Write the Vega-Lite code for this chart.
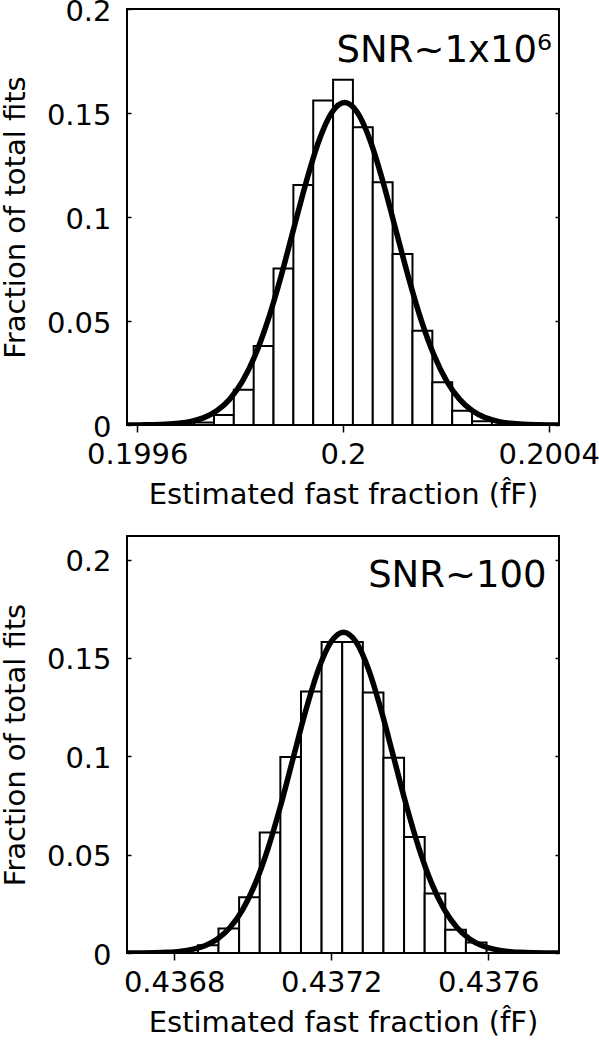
{
  "$schema": "https://vega.github.io/schema/vega-lite/v6.json",
  "background": "white",
  "padding": {"left": 0, "top": -4, "right": 0, "bottom": 0},
  "spacing": 25,
  "datasets": {
    "bars1": [
      {"lo": 0.1997105, "hi": 0.1997491, "frac": 0.0012},
      {"lo": 0.1997491, "hi": 0.1997877, "frac": 0.0048},
      {"lo": 0.1997877, "hi": 0.1998263, "frac": 0.0169},
      {"lo": 0.1998263, "hi": 0.1998649, "frac": 0.038},
      {"lo": 0.1998649, "hi": 0.1999035, "frac": 0.0753},
      {"lo": 0.1999035, "hi": 0.1999421, "frac": 0.1154},
      {"lo": 0.1999421, "hi": 0.1999807, "frac": 0.156},
      {"lo": 0.1999807, "hi": 0.2000193, "frac": 0.166},
      {"lo": 0.2000193, "hi": 0.2000579, "frac": 0.1431},
      {"lo": 0.2000579, "hi": 0.2000965, "frac": 0.1167},
      {"lo": 0.2000965, "hi": 0.2001351, "frac": 0.0822},
      {"lo": 0.2001351, "hi": 0.2001737, "frac": 0.0453},
      {"lo": 0.2001737, "hi": 0.2002123, "frac": 0.0205},
      {"lo": 0.2002123, "hi": 0.2002509, "frac": 0.0069},
      {"lo": 0.2002509, "hi": 0.2002895, "frac": 0.0018}
    ],
    "curve1": [
      {"x": 0.19958, "y": 0.00002},
      {"x": 0.1996055, "y": 0.00005},
      {"x": 0.1996304, "y": 0.00014},
      {"x": 0.1996552, "y": 0.00034},
      {"x": 0.1996801, "y": 0.00079},
      {"x": 0.1997049, "y": 0.00172},
      {"x": 0.1997298, "y": 0.00353},
      {"x": 0.1997546, "y": 0.00681},
      {"x": 0.1997795, "y": 0.01233},
      {"x": 0.1998043, "y": 0.02098},
      {"x": 0.1998292, "y": 0.03352},
      {"x": 0.199854, "y": 0.05032},
      {"x": 0.1998789, "y": 0.07096},
      {"x": 0.1999037, "y": 0.09401},
      {"x": 0.1999286, "y": 0.117},
      {"x": 0.1999534, "y": 0.13679},
      {"x": 0.1999783, "y": 0.15023},
      {"x": 0.2000031, "y": 0.155},
      {"x": 0.200028, "y": 0.15023},
      {"x": 0.2000528, "y": 0.13679},
      {"x": 0.2000777, "y": 0.117},
      {"x": 0.2001025, "y": 0.09401},
      {"x": 0.2001274, "y": 0.07096},
      {"x": 0.2001522, "y": 0.05032},
      {"x": 0.2001771, "y": 0.03352},
      {"x": 0.2002019, "y": 0.02098},
      {"x": 0.2002268, "y": 0.01233},
      {"x": 0.2002516, "y": 0.00681},
      {"x": 0.2002765, "y": 0.00353},
      {"x": 0.2003013, "y": 0.00172},
      {"x": 0.2003262, "y": 0.00079},
      {"x": 0.200351, "y": 0.00034},
      {"x": 0.2003759, "y": 0.00014},
      {"x": 0.2004007, "y": 0.00005},
      {"x": 0.20042, "y": 0.00002}
    ],
    "bars2": [
      {"lo": 0.4368605, "hi": 0.436913, "frac": 0.004},
      {"lo": 0.436913, "hi": 0.4369655, "frac": 0.0124},
      {"lo": 0.4369655, "hi": 0.437018, "frac": 0.0283},
      {"lo": 0.437018, "hi": 0.4370705, "frac": 0.0612},
      {"lo": 0.4370705, "hi": 0.437123, "frac": 0.0997},
      {"lo": 0.437123, "hi": 0.4371755, "frac": 0.1329},
      {"lo": 0.4371755, "hi": 0.437228, "frac": 0.1581},
      {"lo": 0.437228, "hi": 0.4372805, "frac": 0.1581},
      {"lo": 0.4372805, "hi": 0.437333, "frac": 0.1324},
      {"lo": 0.437333, "hi": 0.4373855, "frac": 0.0993},
      {"lo": 0.4373855, "hi": 0.437438, "frac": 0.059},
      {"lo": 0.437438, "hi": 0.4374905, "frac": 0.0302},
      {"lo": 0.4374905, "hi": 0.437543, "frac": 0.0118},
      {"lo": 0.437543, "hi": 0.4375955, "frac": 0.0054}
    ],
    "curve2": [
      {"x": 0.43668, "y": 0.00002},
      {"x": 0.4367177, "y": 0.00005},
      {"x": 0.4367498, "y": 0.00014},
      {"x": 0.4367819, "y": 0.00036},
      {"x": 0.436814, "y": 0.00083},
      {"x": 0.4368461, "y": 0.00181},
      {"x": 0.4368782, "y": 0.00372},
      {"x": 0.4369103, "y": 0.00717},
      {"x": 0.4369424, "y": 0.01298},
      {"x": 0.4369745, "y": 0.02207},
      {"x": 0.4370066, "y": 0.03527},
      {"x": 0.4370387, "y": 0.05295},
      {"x": 0.4370708, "y": 0.07467},
      {"x": 0.4371029, "y": 0.09893},
      {"x": 0.437135, "y": 0.12311},
      {"x": 0.4371671, "y": 0.14394},
      {"x": 0.4371992, "y": 0.15808},
      {"x": 0.4372313, "y": 0.1631},
      {"x": 0.4372634, "y": 0.15808},
      {"x": 0.4372955, "y": 0.14394},
      {"x": 0.4373276, "y": 0.12311},
      {"x": 0.4373597, "y": 0.09893},
      {"x": 0.4373918, "y": 0.07467},
      {"x": 0.4374239, "y": 0.05295},
      {"x": 0.437456, "y": 0.03527},
      {"x": 0.4374881, "y": 0.02207},
      {"x": 0.4375202, "y": 0.01298},
      {"x": 0.4375523, "y": 0.00717},
      {"x": 0.4375844, "y": 0.00372},
      {"x": 0.4376165, "y": 0.00181},
      {"x": 0.4376486, "y": 0.00083},
      {"x": 0.4376807, "y": 0.00036},
      {"x": 0.4377128, "y": 0.00014},
      {"x": 0.4377449, "y": 0.00005},
      {"x": 0.43778, "y": 0.00002}
    ]
  },
  "vconcat": [
    {
      "width": 432,
      "height": 416,
      "layer": [
        {
          "data": {"name": "bars1"},
          "mark": {"type": "rect", "fill": "white", "stroke": "black", "strokeWidth": 2},
          "encoding": {
            "x": {"field": "lo", "type": "quantitative", "scale": {"domain": [0.19958, 0.20042], "nice": false, "zero": false},
                  "axis": {"title": "Estimated fast fraction (f\u0302F)", "values": [0.1996, 0.2, 0.2004], "format": "~g"}},
            "x2": {"field": "hi"},
            "y": {"field": "frac", "type": "quantitative", "scale": {"domain": [0, 0.2], "nice": false},
                  "axis": {"title": "Fraction of total fits", "values": [0, 0.05, 0.1, 0.15, 0.2], "format": "~g"}},
            "y2": {"datum": 0}
          }
        },
        {
          "data": {"name": "curve1"},
          "mark": {"type": "line", "stroke": "black", "strokeWidth": 5.5, "interpolate": "monotone", "clip": true},
          "encoding": {
            "x": {"field": "x", "type": "quantitative", "scale": {"domain": [0.19958, 0.20042], "nice": false, "zero": false},
                  "axis": {"title": "Estimated fast fraction (f\u0302F)", "values": [0.1996, 0.2, 0.2004], "format": "~g"}},
            "y": {"field": "y", "type": "quantitative", "scale": {"domain": [0, 0.2], "nice": false},
                  "axis": {"orient": "right", "title": null, "labels": false, "values": [0, 0.05, 0.1, 0.15, 0.2]}}
          }
        },
        {
          "data": {"values": [{"label": "SNR~1x10\u2076"}]},
          "mark": {"type": "text", "align": "right", "baseline": "alphabetic", "fontSize": 37, "font": "DejaVu Sans", "color": "black"},
          "encoding": {
            "x": {"datum": 0.200406, "type": "quantitative", "scale": {"domain": [0.19958, 0.20042], "nice": false, "zero": false}},
            "y": {"datum": 0.1744, "type": "quantitative", "scale": {"domain": [0, 0.2], "nice": false}, "axis": null},
            "text": {"field": "label", "type": "nominal"}
          }
        }
      ],
      "resolve": {"axis": {"y": "independent"}}
    },
    {
      "width": 432,
      "height": 417,
      "layer": [
        {
          "data": {"name": "bars2"},
          "mark": {"type": "rect", "fill": "white", "stroke": "black", "strokeWidth": 2},
          "encoding": {
            "x": {"field": "lo", "type": "quantitative", "scale": {"domain": [0.43668, 0.43778], "nice": false, "zero": false},
                  "axis": {"title": "Estimated fast fraction (f\u0302F)", "values": [0.4368, 0.4372, 0.4376], "format": "~g"}},
            "x2": {"field": "hi"},
            "y": {"field": "frac", "type": "quantitative", "scale": {"domain": [0, 0.212], "nice": false},
                  "axis": {"title": "Fraction of total fits", "values": [0, 0.05, 0.1, 0.15, 0.2], "format": "~g"}},
            "y2": {"datum": 0}
          }
        },
        {
          "data": {"name": "curve2"},
          "mark": {"type": "line", "stroke": "black", "strokeWidth": 5.5, "interpolate": "monotone", "clip": true},
          "encoding": {
            "x": {"field": "x", "type": "quantitative", "scale": {"domain": [0.43668, 0.43778], "nice": false, "zero": false},
                  "axis": {"title": "Estimated fast fraction (f\u0302F)", "values": [0.4368, 0.4372, 0.4376], "format": "~g"}},
            "y": {"field": "y", "type": "quantitative", "scale": {"domain": [0, 0.212], "nice": false},
                  "axis": {"orient": "right", "title": null, "labels": false, "values": [0, 0.05, 0.1, 0.15, 0.2]}}
          }
        },
        {
          "data": {"values": [{"label": "SNR~100"}]},
          "mark": {"type": "text", "align": "right", "baseline": "alphabetic", "fontSize": 37, "font": "DejaVu Sans", "color": "black"},
          "encoding": {
            "x": {"datum": 0.4377485, "type": "quantitative", "scale": {"domain": [0.43668, 0.43778], "nice": false, "zero": false}},
            "y": {"datum": 0.186, "type": "quantitative", "scale": {"domain": [0, 0.212], "nice": false}, "axis": null},
            "text": {"field": "label", "type": "nominal"}
          }
        }
      ],
      "resolve": {"axis": {"y": "independent"}}
    }
  ],
  "config": {
    "font": "DejaVu Sans",
    "view": {"stroke": "black", "strokeWidth": 2},
    "axis": {
      "domain": false, "grid": false,
      "labelFont": "DejaVu Sans", "titleFont": "DejaVu Sans",
      "labelFontSize": 29, "titleFontSize": 29, "titleFontWeight": "normal",
      "labelColor": "black", "titleColor": "black", "tickColor": "black", "tickWidth": 1.5,
      "labelFlush": false, "labelOverlap": false, "labelBound": false
    },
    "axisX": {"tickSize": 7, "labelPadding": 8, "titlePadding": 11},
    "axisY": {"tickSize": -4, "labelPadding": 20, "titlePadding": 16, "labelOffset": 2}
  }
}
